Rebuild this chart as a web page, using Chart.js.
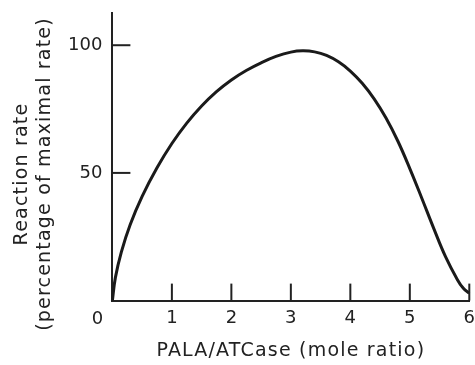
<!DOCTYPE html>
<html>
<head>
<meta charset="utf-8">
<script src="https://cdn.jsdelivr.net/npm/chart.js@4"></script>
<style>
  html, body { margin: 0; padding: 0; background: #fff; }
  #wrap { width: 475px; height: 365px; position: relative; }
</style>
</head>
<body>
<div id="wrap"><canvas id="c"></canvas></div>
<script>
// ---- data ----
const ratioX = [0, 0.05, 0.15, 0.3, 0.5, 0.75, 1.0, 1.25, 1.5, 1.75, 2.0, 2.25, 2.5, 2.75, 3.0, 3.2, 3.4, 3.6, 3.8, 4.0, 4.2, 4.4, 4.6, 4.8, 5.0, 5.2, 5.4, 5.6, 5.8, 5.9, 6.0];
const rateY  = [0, 9, 19, 29.8, 40.8, 52.0, 61.5, 69.5, 76.2, 81.8, 86.4, 90.1, 93.1, 95.6, 97.3, 97.8, 97.4, 96.0, 93.5, 89.9, 85.1, 79.0, 71.5, 62.4, 51.7, 40.2, 28.4, 17.2, 8.2, 4.8, 2.9];
const xTickValues = [0, 1, 2, 3, 4, 5, 6];
const xTickLabels = ['0', '1', '2', '3', '4', '5', '6'];
const yTickValues = [50, 100];
const yTickLabels = ['50', '100'];
const xTitle = 'PALA/ATCase (mole ratio)';
const yTitleLines = ['Reaction rate', '(percentage of maximal rate)'];

const INK = '#222';
const FONT = 'DejaVu Sans';

const points = ratioX.map((x, i) => ({ x: x, y: rateY[i] }));

const decor = {
  id: 'decor',
  afterDraw(chart) {
    const ctx = chart.ctx;
    const xs = chart.scales.x, ys = chart.scales.y;
    const area = chart.chartArea;
    ctx.save();
    // inward tick marks
    ctx.strokeStyle = INK;
    ctx.lineWidth = 2;
    xTickValues.forEach(v => {
      if (v === 0) return;
      const px = xs.getPixelForValue(v);
      ctx.beginPath();
      ctx.moveTo(px, area.bottom);
      ctx.lineTo(px, area.bottom - 17);
      ctx.stroke();
    });
    yTickValues.forEach(v => {
      const py = ys.getPixelForValue(v);
      ctx.beginPath();
      ctx.moveTo(area.left, py);
      ctx.lineTo(area.left + 18, py);
      ctx.stroke();
    });
    // origin label
    ctx.fillStyle = INK;
    ctx.font = '18px "' + FONT + '"';
    ctx.textAlign = 'center';
    ctx.textBaseline = 'alphabetic';
    ctx.fillText(xTickLabels[0], xs.getPixelForValue(0) - 15, 324);
    // titles
    ctx.font = '19px "' + FONT + '"';
    try { ctx.letterSpacing = '1.2px'; } catch (e) {}
    ctx.fillText(xTitle, (area.left + area.right) / 2, 356);
    const yc = 174;
    [[yTitleLines[0], 27], [yTitleLines[1], 50]].forEach(([t, bx]) => {
      ctx.save();
      ctx.translate(bx, yc);
      ctx.rotate(-Math.PI / 2);
      ctx.fillText(t, 0, 0);
      ctx.restore();
    });
    ctx.restore();
  }
};

new Chart(document.getElementById('c'), {
  type: 'line',
  data: {
    datasets: [{
      data: points,
      borderColor: '#1a1a1a',
      borderWidth: 3,
      pointRadius: 0,
      fill: false,
      tension: 0.4,
      clip: false
    }]
  },
  options: {
    responsive: true,
    maintainAspectRatio: false,
    animation: false,
    events: [],
    layout: { padding: { top: 13.3, right: 5.7, left: 0, bottom: 0 } },
    plugins: { legend: { display: false }, tooltip: { enabled: false } },
    scales: {
      x: {
        type: 'linear',
        min: 0, max: 6,
        grid: { display: false, drawTicks: false },
        border: { display: true, color: INK, width: 2 },
        afterBuildTicks: s => { s.ticks = xTickValues.map(v => ({ value: v })); },
        afterFit: s => { s.height = 64.4; s.paddingLeft = 0; s.paddingRight = 0; },
        ticks: {
          color: INK,
          font: { family: FONT, size: 18 },
          padding: 7,
          maxRotation: 0,
          autoSkip: false,
          callback: (v, i) => (i === 0 ? '' : xTickLabels[i])
        },
        title: { display: false }
      },
      y: {
        type: 'linear',
        min: 0, max: 112.5,
        grid: { display: false, drawTicks: false },
        border: { display: true, color: INK, width: 2 },
        afterBuildTicks: s => { s.ticks = yTickValues.map(v => ({ value: v })); },
        afterFit: s => { s.width = 112.4; s.paddingTop = 0; s.paddingBottom = 0; },
        ticks: {
          color: INK,
          font: { family: FONT, size: 18 },
          padding: 10,
          autoSkip: false,
          callback: (v, i) => yTickLabels[i]
        },
        title: { display: false }
      }
    }
  },
  plugins: [decor]
});
</script>
</body>
</html>
